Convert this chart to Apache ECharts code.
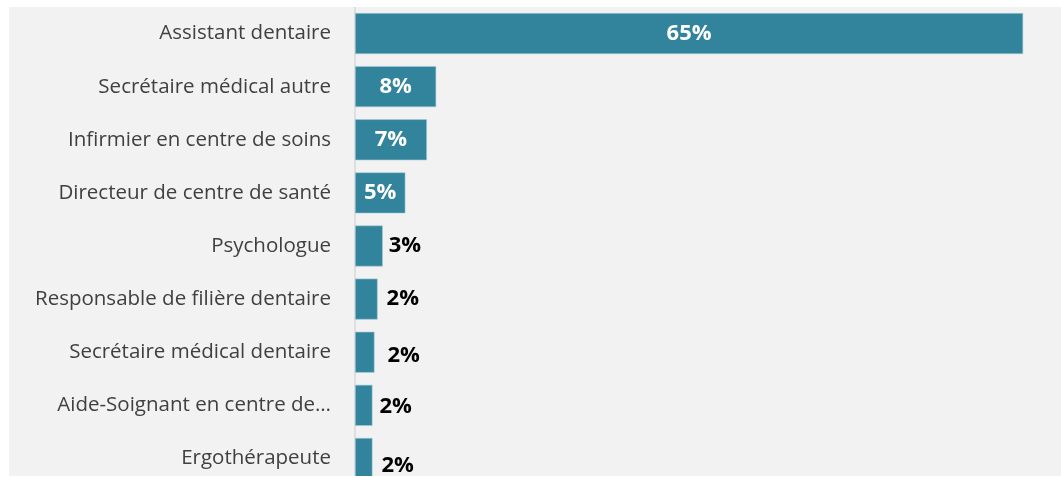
<!DOCTYPE html>
<html>
<head>
<meta charset="utf-8">
<script src="https://cdn.jsdelivr.net/npm/echarts@6/dist/echarts.min.js"></script>
<style>
html,body{margin:0;padding:0;background:#ffffff;width:1061px;height:478px;overflow:hidden;}
#bg{position:absolute;left:9px;top:7px;width:1052px;height:469px;background:#f2f2f2;overflow:hidden;}
#chart{position:absolute;left:0;top:0;width:1052px;height:490px;}
</style>
</head>
<body>
<div id="bg"><div id="chart"></div></div>
<script>
const categories = [
  "Assistant dentaire",
  "Secrétaire médical autre",
  "Infirmier en centre de soins",
  "Directeur de centre de santé",
  "Psychologue",
  "Responsable de filière dentaire",
  "Secrétaire médical dentaire",
  "Aide-Soignant en centre de…",
  "Ergothérapeute"
];
const values = [65, 7.9, 7.0, 4.9, 2.7, 2.2, 1.9, 1.7, 1.7];
const valueLabels = ["65%", "8%", "7%", "5%", "3%", "2%", "2%", "2%", "2%"];

const chart = echarts.init(document.getElementById('chart'), null, {renderer: 'canvas'});
// Excel's slightly irregular outside-label placement
const outsideLabelShift = {4: [0, 0], 5: [3, 0], 6: [7, 4], 7: [1, 1], 8: [3, 7]};
const data = values.map((v, i) => {
  const inside = v >= 4;
  return {
    value: v,
    label: inside ? {
      position: 'inside', color: '#ffffff'
    } : {
      position: 'right', color: '#000000', distance: 6,
      offset: outsideLabelShift[i] || [0, 0]
    }
  };
});
chart.setOption({
  backgroundColor: 'transparent',
  animation: false,
  grid: {left: 346, top: 0, width: 699, height: 478},
  xAxis: {
    type: 'value', min: 0, max: 68,
    show: false
  },
  yAxis: {
    type: 'category',
    data: categories,
    inverse: true,
    axisLine: {show: true, lineStyle: {color: '#d9d9d9', width: 1.5}},
    axisTick: {show: false},
    axisLabel: {
      color: '#404040', fontFamily: 'Open Sans', fontSize: 20.5, margin: 24
    }
  },
  series: [{
    type: 'bar',
    data: data,
    barWidth: 41,
    itemStyle: {color: '#31849b', borderColor: '#a8cdd8', borderWidth: 0.6},
    label: {
      show: true,
      fontFamily: 'Open Sans', fontWeight: 'bold', fontSize: 22,
      formatter: p => valueLabels[p.dataIndex]
    }
  }]
});
</script>
</body>
</html>
